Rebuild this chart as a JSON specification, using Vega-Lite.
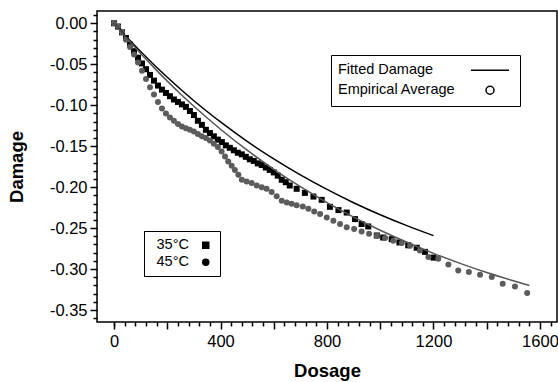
{
  "$schema": "https://vega.github.io/schema/vega-lite/v6.json",
  "width": 460,
  "height": 311,
  "autosize": {"type": "none"},
  "padding": {"left": 97, "top": 11, "right": 1, "bottom": 60},
  "background": "white",
  "config": {
    "font": "Liberation Sans",
    "view": {"stroke": "black", "strokeWidth": 1.5},
    "axis": {"grid": false, "domain": false, "tickColor": "black", "tickWidth": 1.5, "labelColor": "black", "titleColor": "black"}
  },
  "datasets": {
    "empirical": [
      {"temp": "35°C", "kind": "Empirical Average", "dosage": 0, "damage": 0},
      {"temp": "35°C", "kind": "Empirical Average", "dosage": 15, "damage": -0.004},
      {"temp": "35°C", "kind": "Empirical Average", "dosage": 30, "damage": -0.011},
      {"temp": "35°C", "kind": "Empirical Average", "dosage": 45, "damage": -0.018},
      {"temp": "35°C", "kind": "Empirical Average", "dosage": 60, "damage": -0.026},
      {"temp": "35°C", "kind": "Empirical Average", "dosage": 75, "damage": -0.034},
      {"temp": "35°C", "kind": "Empirical Average", "dosage": 90, "damage": -0.042},
      {"temp": "35°C", "kind": "Empirical Average", "dosage": 105, "damage": -0.049},
      {"temp": "35°C", "kind": "Empirical Average", "dosage": 120, "damage": -0.056},
      {"temp": "35°C", "kind": "Empirical Average", "dosage": 135, "damage": -0.063},
      {"temp": "35°C", "kind": "Empirical Average", "dosage": 150, "damage": -0.070},
      {"temp": "35°C", "kind": "Empirical Average", "dosage": 165, "damage": -0.076},
      {"temp": "35°C", "kind": "Empirical Average", "dosage": 180, "damage": -0.081},
      {"temp": "35°C", "kind": "Empirical Average", "dosage": 195, "damage": -0.085},
      {"temp": "35°C", "kind": "Empirical Average", "dosage": 210, "damage": -0.089},
      {"temp": "35°C", "kind": "Empirical Average", "dosage": 225, "damage": -0.093},
      {"temp": "35°C", "kind": "Empirical Average", "dosage": 240, "damage": -0.096},
      {"temp": "35°C", "kind": "Empirical Average", "dosage": 255, "damage": -0.099},
      {"temp": "35°C", "kind": "Empirical Average", "dosage": 270, "damage": -0.102},
      {"temp": "35°C", "kind": "Empirical Average", "dosage": 285, "damage": -0.107},
      {"temp": "35°C", "kind": "Empirical Average", "dosage": 300, "damage": -0.112},
      {"temp": "35°C", "kind": "Empirical Average", "dosage": 315, "damage": -0.119},
      {"temp": "35°C", "kind": "Empirical Average", "dosage": 330, "damage": -0.124},
      {"temp": "35°C", "kind": "Empirical Average", "dosage": 345, "damage": -0.130},
      {"temp": "35°C", "kind": "Empirical Average", "dosage": 360, "damage": -0.134},
      {"temp": "35°C", "kind": "Empirical Average", "dosage": 375, "damage": -0.138},
      {"temp": "35°C", "kind": "Empirical Average", "dosage": 390, "damage": -0.142},
      {"temp": "35°C", "kind": "Empirical Average", "dosage": 405, "damage": -0.145},
      {"temp": "35°C", "kind": "Empirical Average", "dosage": 420, "damage": -0.149},
      {"temp": "35°C", "kind": "Empirical Average", "dosage": 435, "damage": -0.152},
      {"temp": "35°C", "kind": "Empirical Average", "dosage": 450, "damage": -0.155},
      {"temp": "35°C", "kind": "Empirical Average", "dosage": 465, "damage": -0.158},
      {"temp": "35°C", "kind": "Empirical Average", "dosage": 480, "damage": -0.160},
      {"temp": "35°C", "kind": "Empirical Average", "dosage": 495, "damage": -0.163},
      {"temp": "35°C", "kind": "Empirical Average", "dosage": 510, "damage": -0.166},
      {"temp": "35°C", "kind": "Empirical Average", "dosage": 525, "damage": -0.168},
      {"temp": "35°C", "kind": "Empirical Average", "dosage": 540, "damage": -0.171},
      {"temp": "35°C", "kind": "Empirical Average", "dosage": 555, "damage": -0.173},
      {"temp": "35°C", "kind": "Empirical Average", "dosage": 570, "damage": -0.176},
      {"temp": "35°C", "kind": "Empirical Average", "dosage": 585, "damage": -0.179},
      {"temp": "35°C", "kind": "Empirical Average", "dosage": 600, "damage": -0.182},
      {"temp": "35°C", "kind": "Empirical Average", "dosage": 615, "damage": -0.186},
      {"temp": "35°C", "kind": "Empirical Average", "dosage": 630, "damage": -0.191},
      {"temp": "35°C", "kind": "Empirical Average", "dosage": 645, "damage": -0.194},
      {"temp": "35°C", "kind": "Empirical Average", "dosage": 660, "damage": -0.198},
      {"temp": "35°C", "kind": "Empirical Average", "dosage": 686, "damage": -0.202},
      {"temp": "35°C", "kind": "Empirical Average", "dosage": 717, "damage": -0.207},
      {"temp": "35°C", "kind": "Empirical Average", "dosage": 749, "damage": -0.2115},
      {"temp": "35°C", "kind": "Empirical Average", "dosage": 780, "damage": -0.2155},
      {"temp": "35°C", "kind": "Empirical Average", "dosage": 811, "damage": -0.224},
      {"temp": "35°C", "kind": "Empirical Average", "dosage": 843, "damage": -0.228},
      {"temp": "35°C", "kind": "Empirical Average", "dosage": 874, "damage": -0.231},
      {"temp": "35°C", "kind": "Empirical Average", "dosage": 905, "damage": -0.239},
      {"temp": "35°C", "kind": "Empirical Average", "dosage": 930, "damage": -0.245},
      {"temp": "35°C", "kind": "Empirical Average", "dosage": 955, "damage": -0.248},
      {"temp": "35°C", "kind": "Empirical Average", "dosage": 987, "damage": -0.259},
      {"temp": "35°C", "kind": "Empirical Average", "dosage": 1011, "damage": -0.2615},
      {"temp": "35°C", "kind": "Empirical Average", "dosage": 1043, "damage": -0.2635},
      {"temp": "35°C", "kind": "Empirical Average", "dosage": 1072, "damage": -0.2675},
      {"temp": "35°C", "kind": "Empirical Average", "dosage": 1105, "damage": -0.271},
      {"temp": "35°C", "kind": "Empirical Average", "dosage": 1137, "damage": -0.274},
      {"temp": "35°C", "kind": "Empirical Average", "dosage": 1168, "damage": -0.279},
      {"temp": "35°C", "kind": "Empirical Average", "dosage": 1200, "damage": -0.286},
      {"temp": "45°C", "kind": "Empirical Average", "dosage": 0, "damage": 0},
      {"temp": "45°C", "kind": "Empirical Average", "dosage": 15, "damage": -0.004},
      {"temp": "45°C", "kind": "Empirical Average", "dosage": 30, "damage": -0.011},
      {"temp": "45°C", "kind": "Empirical Average", "dosage": 45, "damage": -0.020},
      {"temp": "45°C", "kind": "Empirical Average", "dosage": 60, "damage": -0.029},
      {"temp": "45°C", "kind": "Empirical Average", "dosage": 75, "damage": -0.038},
      {"temp": "45°C", "kind": "Empirical Average", "dosage": 90, "damage": -0.048},
      {"temp": "45°C", "kind": "Empirical Average", "dosage": 105, "damage": -0.058},
      {"temp": "45°C", "kind": "Empirical Average", "dosage": 120, "damage": -0.068},
      {"temp": "45°C", "kind": "Empirical Average", "dosage": 135, "damage": -0.078},
      {"temp": "45°C", "kind": "Empirical Average", "dosage": 150, "damage": -0.087},
      {"temp": "45°C", "kind": "Empirical Average", "dosage": 165, "damage": -0.096},
      {"temp": "45°C", "kind": "Empirical Average", "dosage": 180, "damage": -0.104},
      {"temp": "45°C", "kind": "Empirical Average", "dosage": 195, "damage": -0.110},
      {"temp": "45°C", "kind": "Empirical Average", "dosage": 210, "damage": -0.115},
      {"temp": "45°C", "kind": "Empirical Average", "dosage": 225, "damage": -0.119},
      {"temp": "45°C", "kind": "Empirical Average", "dosage": 240, "damage": -0.123},
      {"temp": "45°C", "kind": "Empirical Average", "dosage": 255, "damage": -0.126},
      {"temp": "45°C", "kind": "Empirical Average", "dosage": 270, "damage": -0.128},
      {"temp": "45°C", "kind": "Empirical Average", "dosage": 285, "damage": -0.130},
      {"temp": "45°C", "kind": "Empirical Average", "dosage": 300, "damage": -0.132},
      {"temp": "45°C", "kind": "Empirical Average", "dosage": 315, "damage": -0.135},
      {"temp": "45°C", "kind": "Empirical Average", "dosage": 330, "damage": -0.138},
      {"temp": "45°C", "kind": "Empirical Average", "dosage": 345, "damage": -0.140},
      {"temp": "45°C", "kind": "Empirical Average", "dosage": 360, "damage": -0.143},
      {"temp": "45°C", "kind": "Empirical Average", "dosage": 375, "damage": -0.147},
      {"temp": "45°C", "kind": "Empirical Average", "dosage": 390, "damage": -0.151},
      {"temp": "45°C", "kind": "Empirical Average", "dosage": 404, "damage": -0.1566},
      {"temp": "45°C", "kind": "Empirical Average", "dosage": 417, "damage": -0.1627},
      {"temp": "45°C", "kind": "Empirical Average", "dosage": 429, "damage": -0.1688},
      {"temp": "45°C", "kind": "Empirical Average", "dosage": 442, "damage": -0.174},
      {"temp": "45°C", "kind": "Empirical Average", "dosage": 454, "damage": -0.179},
      {"temp": "45°C", "kind": "Empirical Average", "dosage": 467, "damage": -0.185},
      {"temp": "45°C", "kind": "Empirical Average", "dosage": 480, "damage": -0.191},
      {"temp": "45°C", "kind": "Empirical Average", "dosage": 498, "damage": -0.193},
      {"temp": "45°C", "kind": "Empirical Average", "dosage": 517, "damage": -0.195},
      {"temp": "45°C", "kind": "Empirical Average", "dosage": 536, "damage": -0.198},
      {"temp": "45°C", "kind": "Empirical Average", "dosage": 555, "damage": -0.200},
      {"temp": "45°C", "kind": "Empirical Average", "dosage": 573, "damage": -0.202},
      {"temp": "45°C", "kind": "Empirical Average", "dosage": 592, "damage": -0.206},
      {"temp": "45°C", "kind": "Empirical Average", "dosage": 611, "damage": -0.211},
      {"temp": "45°C", "kind": "Empirical Average", "dosage": 630, "damage": -0.2167},
      {"temp": "45°C", "kind": "Empirical Average", "dosage": 649, "damage": -0.2188},
      {"temp": "45°C", "kind": "Empirical Average", "dosage": 667, "damage": -0.2204},
      {"temp": "45°C", "kind": "Empirical Average", "dosage": 686, "damage": -0.222},
      {"temp": "45°C", "kind": "Empirical Average", "dosage": 709, "damage": -0.2237},
      {"temp": "45°C", "kind": "Empirical Average", "dosage": 730, "damage": -0.2265},
      {"temp": "45°C", "kind": "Empirical Average", "dosage": 752, "damage": -0.2297},
      {"temp": "45°C", "kind": "Empirical Average", "dosage": 774, "damage": -0.2329},
      {"temp": "45°C", "kind": "Empirical Average", "dosage": 799, "damage": -0.2371},
      {"temp": "45°C", "kind": "Empirical Average", "dosage": 824, "damage": -0.2411},
      {"temp": "45°C", "kind": "Empirical Average", "dosage": 849, "damage": -0.2451},
      {"temp": "45°C", "kind": "Empirical Average", "dosage": 874, "damage": -0.2488},
      {"temp": "45°C", "kind": "Empirical Average", "dosage": 902, "damage": -0.2512},
      {"temp": "45°C", "kind": "Empirical Average", "dosage": 930, "damage": -0.2541},
      {"temp": "45°C", "kind": "Empirical Average", "dosage": 958, "damage": -0.257},
      {"temp": "45°C", "kind": "Empirical Average", "dosage": 987, "damage": -0.2594},
      {"temp": "45°C", "kind": "Empirical Average", "dosage": 1018, "damage": -0.2622},
      {"temp": "45°C", "kind": "Empirical Average", "dosage": 1049, "damage": -0.2655},
      {"temp": "45°C", "kind": "Empirical Average", "dosage": 1081, "damage": -0.2683},
      {"temp": "45°C", "kind": "Empirical Average", "dosage": 1112, "damage": -0.2716},
      {"temp": "45°C", "kind": "Empirical Average", "dosage": 1149, "damage": -0.2773},
      {"temp": "45°C", "kind": "Empirical Average", "dosage": 1181, "damage": -0.2854},
      {"temp": "45°C", "kind": "Empirical Average", "dosage": 1218, "damage": -0.2874},
      {"temp": "45°C", "kind": "Empirical Average", "dosage": 1256, "damage": -0.2944},
      {"temp": "45°C", "kind": "Empirical Average", "dosage": 1293, "damage": -0.3017},
      {"temp": "45°C", "kind": "Empirical Average", "dosage": 1333, "damage": -0.3037},
      {"temp": "45°C", "kind": "Empirical Average", "dosage": 1375, "damage": -0.3069},
      {"temp": "45°C", "kind": "Empirical Average", "dosage": 1419, "damage": -0.3098},
      {"temp": "45°C", "kind": "Empirical Average", "dosage": 1460, "damage": -0.3179},
      {"temp": "45°C", "kind": "Empirical Average", "dosage": 1506, "damage": -0.3212},
      {"temp": "45°C", "kind": "Empirical Average", "dosage": 1552, "damage": -0.3293}
    ],
    "fitted": [
      {"temp": "35°C", "kind": "Fitted Damage", "dosage": 0, "damage": 0},
      {"temp": "35°C", "kind": "Fitted Damage", "dosage": 50, "damage": -0.0177},
      {"temp": "35°C", "kind": "Fitted Damage", "dosage": 100, "damage": -0.0345},
      {"temp": "35°C", "kind": "Fitted Damage", "dosage": 150, "damage": -0.0506},
      {"temp": "35°C", "kind": "Fitted Damage", "dosage": 200, "damage": -0.0659},
      {"temp": "35°C", "kind": "Fitted Damage", "dosage": 250, "damage": -0.0805},
      {"temp": "35°C", "kind": "Fitted Damage", "dosage": 300, "damage": -0.0945},
      {"temp": "35°C", "kind": "Fitted Damage", "dosage": 400, "damage": -0.1204},
      {"temp": "35°C", "kind": "Fitted Damage", "dosage": 500, "damage": -0.1441},
      {"temp": "35°C", "kind": "Fitted Damage", "dosage": 600, "damage": -0.1655},
      {"temp": "35°C", "kind": "Fitted Damage", "dosage": 700, "damage": -0.1851},
      {"temp": "35°C", "kind": "Fitted Damage", "dosage": 800, "damage": -0.2028},
      {"temp": "35°C", "kind": "Fitted Damage", "dosage": 900, "damage": -0.2190},
      {"temp": "35°C", "kind": "Fitted Damage", "dosage": 1000, "damage": -0.2337},
      {"temp": "35°C", "kind": "Fitted Damage", "dosage": 1100, "damage": -0.2470},
      {"temp": "35°C", "kind": "Fitted Damage", "dosage": 1200, "damage": -0.2592},
      {"temp": "45°C", "kind": "Fitted Damage", "dosage": 0, "damage": 0},
      {"temp": "45°C", "kind": "Fitted Damage", "dosage": 50, "damage": -0.0189},
      {"temp": "45°C", "kind": "Fitted Damage", "dosage": 100, "damage": -0.0369},
      {"temp": "45°C", "kind": "Fitted Damage", "dosage": 150, "damage": -0.0541},
      {"temp": "45°C", "kind": "Fitted Damage", "dosage": 200, "damage": -0.0706},
      {"temp": "45°C", "kind": "Fitted Damage", "dosage": 250, "damage": -0.0863},
      {"temp": "45°C", "kind": "Fitted Damage", "dosage": 300, "damage": -0.1013},
      {"temp": "45°C", "kind": "Fitted Damage", "dosage": 400, "damage": -0.1293},
      {"temp": "45°C", "kind": "Fitted Damage", "dosage": 500, "damage": -0.1549},
      {"temp": "45°C", "kind": "Fitted Damage", "dosage": 600, "damage": -0.1782},
      {"temp": "45°C", "kind": "Fitted Damage", "dosage": 700, "damage": -0.1994},
      {"temp": "45°C", "kind": "Fitted Damage", "dosage": 800, "damage": -0.2188},
      {"temp": "45°C", "kind": "Fitted Damage", "dosage": 900, "damage": -0.2365},
      {"temp": "45°C", "kind": "Fitted Damage", "dosage": 1000, "damage": -0.2526},
      {"temp": "45°C", "kind": "Fitted Damage", "dosage": 1100, "damage": -0.2673},
      {"temp": "45°C", "kind": "Fitted Damage", "dosage": 1200, "damage": -0.2808},
      {"temp": "45°C", "kind": "Fitted Damage", "dosage": 1300, "damage": -0.2930},
      {"temp": "45°C", "kind": "Fitted Damage", "dosage": 1400, "damage": -0.3042},
      {"temp": "45°C", "kind": "Fitted Damage", "dosage": 1500, "damage": -0.3143},
      {"temp": "45°C", "kind": "Fitted Damage", "dosage": 1560, "damage": -0.3200}
    ]
  },
  "resolve": {
    "scale": {"x": "shared", "y": "shared", "shape": "independent"},
    "axis": {"x": "independent", "y": "independent"}
  },
  "layer": [
    {
      "data": {"name": "empirical"},
      "mark": {"type": "point", "filled": true, "size": 36, "opacity": 1},
      "encoding": {
        "x": {
          "field": "dosage", "type": "quantitative",
          "scale": {"domain": [-64, 1664], "nice": false, "zero": false},
          "axis": {
            "orient": "bottom", "title": "Dosage",
            "values": [0, 200, 400, 600, 800, 1000, 1200, 1400, 1600],
            "labelExpr": "datum.value % 400 === 0 ? format(datum.value, 'd') : ''",
            "tickSize": 7, "labelPadding": 4, "labelFontSize": 16.5,
            "titleFontSize": 18.5, "titleFontWeight": "bold", "titlePadding": 12
          }
        },
        "y": {
          "field": "damage", "type": "quantitative",
          "scale": {"domain": [-0.3646, 0.015], "nice": false, "zero": false},
          "axis": {
            "orient": "left", "title": "Damage",
            "values": [0, -0.05, -0.1, -0.15, -0.2, -0.25, -0.3, -0.35],
            "labelExpr": "replace(format(datum.value, '.2f'), '\u2212', '-')",
            "tickSize": 7, "labelPadding": 3, "labelFontSize": 16.5,
            "titleFontSize": 18.5, "titleFontWeight": "bold", "titlePadding": 23
          }
        },
        "color": {
          "field": "temp", "type": "nominal",
          "scale": {"domain": ["35°C", "45°C"], "range": ["#000000", "#5c5c5c"]},
          "legend": {
            "title": null, "orient": "none", "legendX": 47, "legendY": 220,
            "direction": "vertical",
            "strokeColor": "black", "fillColor": "white", "padding": 7,
            "labelFontSize": 14.5, "labelColor": "black", "symbolSize": 56,
            "symbolOffset": 47.5, "labelOffset": -56.5, "rowPadding": 2
          }
        },
        "shape": {
          "field": "temp", "type": "nominal",
          "scale": {"domain": ["35°C", "45°C"], "range": ["square", "circle"]},
          "legend": {
            "title": null, "orient": "none", "legendX": 47, "legendY": 220,
            "direction": "vertical",
            "strokeColor": "black", "fillColor": "white", "padding": 7,
            "labelFontSize": 14.5, "labelColor": "black", "symbolSize": 56,
            "symbolOffset": 47.5, "labelOffset": -56.5, "rowPadding": 2
          }
        }
      }
    },
    {
      "data": {"name": "fitted"},
      "transform": [{"filter": "datum.temp === '35°C'"}],
      "mark": {"type": "line", "color": "black", "strokeWidth": 1.5, "interpolate": "monotone"},
      "encoding": {
        "x": {
          "field": "dosage", "type": "quantitative",
          "axis": {
            "orient": "bottom", "title": null, "labels": false, "tickSize": 4,
            "values": [0, 40, 80, 120, 160, 240, 280, 320, 360, 440, 480, 520, 560, 640, 680, 720, 760, 840, 880, 920, 960, 1040, 1080, 1120, 1160, 1240, 1280, 1320, 1360, 1440, 1480, 1520, 1560, 1640]
          }
        },
        "y": {
          "field": "damage", "type": "quantitative",
          "axis": {
            "orient": "left", "title": null, "labels": false, "tickSize": 4,
            "values": [0.01, -0.01, -0.02, -0.03, -0.04, -0.06, -0.07, -0.08, -0.09, -0.11, -0.12, -0.13, -0.14, -0.16, -0.17, -0.18, -0.19, -0.21, -0.22, -0.23, -0.24, -0.26, -0.27, -0.28, -0.29, -0.31, -0.32, -0.33, -0.34, -0.36]
          }
        }
      }
    },
    {
      "data": {"name": "fitted"},
      "transform": [{"filter": "datum.temp === '45°C'"}],
      "mark": {"type": "line", "color": "#555555", "strokeWidth": 1.5, "interpolate": "monotone"},
      "encoding": {
        "x": {"field": "dosage", "type": "quantitative", "axis": null},
        "y": {"field": "damage", "type": "quantitative", "axis": null}
      }
    },
    {
      "data": {"name": "fitted"},
      "mark": {"type": "point", "filled": false, "color": "black", "strokeWidth": 1.5, "opacity": 0},
      "encoding": {
        "x": {"field": "dosage", "type": "quantitative", "axis": null},
        "y": {"field": "damage", "type": "quantitative", "axis": null},
        "shape": {
          "field": "kind", "type": "nominal",
          "scale": {"domain": ["Fitted Damage", "Empirical Average"], "range": ["M-4.75,0H4.75", "circle"]},
          "legend": {
            "title": null, "orient": "none", "legendX": 234, "legendY": 44,
            "direction": "vertical",
            "strokeColor": "black", "fillColor": "white", "padding": 8,
            "labelFontSize": 14.5, "labelColor": "black",
            "symbolSize": 64, "symbolOpacity": 1, "symbolStrokeColor": "black", "symbolStrokeWidth": 1.5,
            "symbolOffset": 143.75, "labelOffset": -159.25, "rowPadding": 5
          }
        }
      }
    }
  ]
}
